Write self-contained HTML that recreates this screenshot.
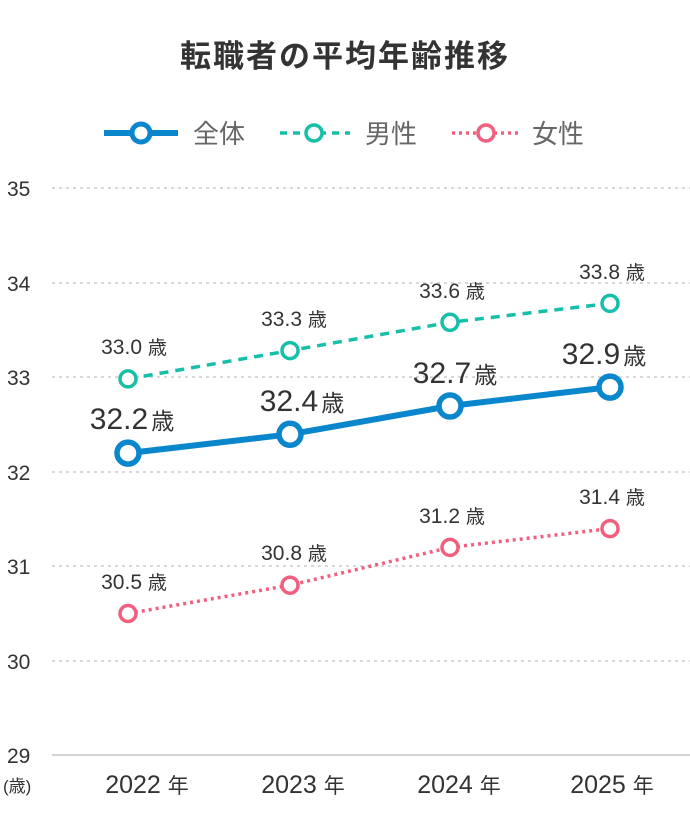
<!DOCTYPE html><html><head><meta charset="utf-8"><style>body{margin:0;background:#fff}svg{display:block}text{font-family:"Liberation Sans","Noto Sans CJK JP",sans-serif}</style></head><body>
<svg width="690" height="820" viewBox="0 0 690 820">
<text x="345" y="67" text-anchor="middle" font-size="31" font-weight="bold" fill="#333" letter-spacing="2">転職者の平均年齢推移</text>
<line x1="104" y1="133" x2="178" y2="133" stroke="#0a86cc" stroke-width="6"/><circle cx="141" cy="133" r="9" fill="#fff" stroke="#0a86cc" stroke-width="5"/>
<text x="193" y="143" font-size="26" fill="#666">全体</text>
<line x1="280" y1="133" x2="350" y2="133" stroke="#16bfa8" stroke-width="3.5" stroke-dasharray="7,6"/><circle cx="314" cy="133" r="8" fill="#fff" stroke="#16bfa8" stroke-width="3.5"/>
<text x="365" y="143" font-size="26" fill="#666">男性</text>
<line x1="452" y1="133" x2="520" y2="133" stroke="#f0607e" stroke-width="3.5" stroke-dasharray="3,4"/><circle cx="486" cy="133" r="8" fill="#fff" stroke="#f0607e" stroke-width="3.5"/>
<text x="532" y="143" font-size="26" fill="#666">女性</text>
<g stroke="#ccc" stroke-width="1.5" stroke-dasharray="3,4">
<line x1="52" y1="188" x2="690" y2="188"/><line x1="52" y1="283" x2="690" y2="283"/><line x1="52" y1="377" x2="690" y2="377"/><line x1="52" y1="472" x2="690" y2="472"/><line x1="52" y1="566" x2="690" y2="566"/><line x1="52" y1="661" x2="690" y2="661"/></g>
<line x1="52" y1="755" x2="690" y2="755" stroke="#aaa" stroke-width="1"/>
<g font-size="21" fill="#333"><text x="7" y="196">35</text><text x="7" y="291">34</text><text x="7" y="385">33</text><text x="7" y="480">32</text><text x="7" y="574">31</text><text x="7" y="669">30</text><text x="7" y="763">29</text><text x="3" y="792" font-size="17">(歳)</text></g>
<g font-size="25" fill="#333" text-anchor="middle"><text x="147" y="793">2022 <tspan font-size="21">年</tspan></text><text x="303" y="793">2023 <tspan font-size="21">年</tspan></text><text x="459" y="793">2024 <tspan font-size="21">年</tspan></text><text x="612" y="793">2025 <tspan font-size="21">年</tspan></text></g>
<polyline points="128,378.9 290,350.6 450,322.3 610,303.4" fill="none" stroke="#16bfa8" stroke-width="3.5" stroke-dasharray="9,7"/>
<polyline points="128,613.5 290,585.2 450,547.4 610,528.6" fill="none" stroke="#f0607e" stroke-width="3.5" stroke-dasharray="3,4"/>
<polyline points="128,453.1 290,434.3 450,406 610,387.1" fill="none" stroke="#0a86cc" stroke-width="6"/>
<g fill="#fff" stroke="#16bfa8" stroke-width="3.5"><circle cx="128" cy="378.9" r="8"/><circle cx="290" cy="350.6" r="8"/><circle cx="450" cy="322.3" r="8"/><circle cx="610" cy="303.4" r="8"/></g>
<g fill="#fff" stroke="#f0607e" stroke-width="3.5"><circle cx="128" cy="613.5" r="8"/><circle cx="290" cy="585.2" r="8"/><circle cx="450" cy="547.4" r="8"/><circle cx="610" cy="528.6" r="8"/></g>
<g fill="#fff" stroke="#0a86cc" stroke-width="5.5"><circle cx="128" cy="453.1" r="11"/><circle cx="290" cy="434.3" r="11"/><circle cx="450" cy="406" r="11"/><circle cx="610" cy="387.1" r="11"/></g>
<g font-size="21" fill="#333" text-anchor="middle"><text x="134" y="354">33.0 <tspan font-size="19">歳</tspan></text><text x="294" y="326">33.3 <tspan font-size="19">歳</tspan></text><text x="452" y="298">33.6 <tspan font-size="19">歳</tspan></text><text x="612" y="279">33.8 <tspan font-size="19">歳</tspan></text>
<text x="134" y="589">30.5 <tspan font-size="19">歳</tspan></text><text x="294" y="560">30.8 <tspan font-size="19">歳</tspan></text><text x="452" y="523">31.2 <tspan font-size="19">歳</tspan></text><text x="612" y="504">31.4 <tspan font-size="19">歳</tspan></text></g>
<g font-size="30" fill="#333" text-anchor="middle"><text x="132" y="429">32.2<tspan font-size="23" dx="3">歳</tspan></text><text x="302" y="411">32.4<tspan font-size="23" dx="3">歳</tspan></text><text x="455" y="383">32.7<tspan font-size="23" dx="3">歳</tspan></text><text x="604" y="364">32.9<tspan font-size="23" dx="3">歳</tspan></text></g>
</svg></body></html>
